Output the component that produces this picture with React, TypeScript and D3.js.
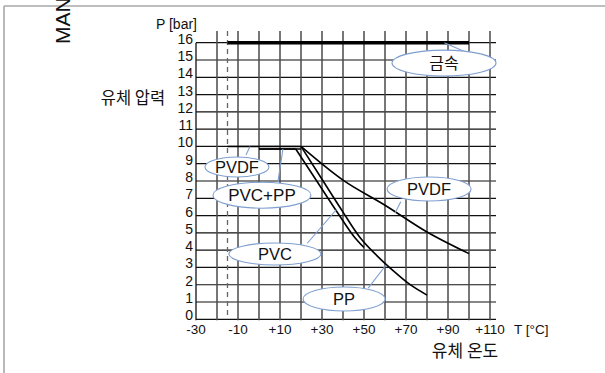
import React from "react";
import * as d3 from "d3";

const tempTicks = [-30, -20, -10, 0, 10, 20, 30, 40, 50, 60, 70, 80, 90, 100, 110];
const tempLabels = ["-30", "-10", "+10", "+30", "+50", "+70", "+90", "+110"];
const tempLabelValues = [-30, -10, 10, 30, 50, 70, 90, 110];
const pressureTicks = [0, 1, 2, 3, 4, 5, 6, 7, 8, 9, 10, 11, 12, 13, 14, 15, 16];

const metalFlat: [number, number][] = [[-15, 16], [100, 16]];
const pvdfFlat: [number, number][] = [[-15, 10], [20, 10]];
const pvdfCurve: [number, number][] = [[20, 10], [40, 8.05], [60, 6.6], [80, 5.05], [100, 3.8]];
const pvcFlat: [number, number][] = [[0, 9.85], [17.5, 9.85]];
const pvcCurve: [number, number][] = [[17.5, 9.85], [27.5, 8.0], [37.5, 6.15], [45.5, 4.75], [50, 4.15]];
const ppFlat: [number, number][] = [[0, 9.85], [20, 9.85]];
const ppCurve: [number, number][] = [[20, 10], [30, 8.1], [40, 6.2], [48, 4.75], [56, 3.7], [64, 2.8], [72, 2.0], [80, 1.4]];

const minTemp = -15;

// callouts: label, centre (T,P), pointer from (T,P) to (T,P)
const calloutLabels = ["금속", "PVDF", "PVC+PP", "PVC", "PVDF", "PP"];
const calloutCentres: [number, number][] = [[88.1, 14.82], [-10.5, 8.81], [1.4, 7.18], [7.6, 3.78], [81, 7.54], [40.5, 1.17]];
const calloutFrom: [number, number][] = [[98.6, 15.45], [-6.2, 9.5], [9.0, 7.95], [23, 4.4], [67.5, 6.8], [52, 1.8]];
const calloutTo: [number, number][] = [[88.3, 16], [-4.3, 10], [11.4, 9.85], [37.1, 6.38], [64.8, 6.15], [60.5, 3.14]];
const calloutRx = [52, 32, 49, 46, 42, 41];
const calloutRy = [13, 10, 13, 11, 12, 12];
const calloutFont = [16, 16.5, 17, 16.5, 16.5, 16.5];

export default function App() {
  const W = 605, H = 373;
  const x = d3.scaleLinear().domain([-30, 110]).range([196, 490]);
  const y = d3.scaleLinear().domain([0, 16]).range([319.3, 42.7]);
  const flat = d3.line<[number, number]>().x(d => x(d[0])).y(d => y(d[1]));
  const curve = d3.line<[number, number]>().x(d => x(d[0])).y(d => y(d[1])).curve(d3.curveMonotoneX);
  const latin = "'Liberation Sans', Arial, Helvetica, sans-serif";
  const korean = "'Noto Sans CJK KR', 'Noto Sans', sans-serif";
  const blue = "#7f9fcf";
  const topP = 16.67;

  return (
    <svg width={W} height={H} style={{ position: "absolute", left: 0, top: 0, background: "#fff" }}>
      {/* frame */}
      <line x1={4} y1={6} x2={W} y2={6} stroke="#a8a8a8" strokeWidth={1.6} />
      <line x1={4} y1={6} x2={4} y2={H} stroke="#a8a8a8" strokeWidth={1.6} />
      <text transform={`translate(70,44) rotate(-90)`} fontFamily={latin} fontSize={21} fill="#111">MAN</text>

      {/* grid horizontal */}
      {pressureTicks.map(p => (
        <line key={"h" + p} x1={x(-30)} x2={x(110) + 6} y1={y(p)} y2={y(p)} stroke="#111" strokeWidth={1.2} />
      ))}
      {/* grid vertical */}
      {tempTicks.map(t => (
        <line key={"v" + t} x1={x(t)} x2={x(t)} y1={y(t === -30 ? 16 : topP)} y2={y(0) + 1} stroke={t === -30 ? "#111" : "#4a4a4a"} strokeWidth={t === -30 ? 1.3 : 1.5} />
      ))}
      {/* dashed min temp */}
      <line x1={x(minTemp)} x2={x(minTemp)} y1={y(topP)} y2={y(0) - 2} stroke="#666" strokeWidth={1.3} strokeDasharray="5,4" />

      {/* y ticks */}
      {pressureTicks.map(p => (
        <text key={"yl" + p} x={193} y={y(p) + 1} textAnchor="end" fontFamily={latin} fontSize={14} fill="#111">{p}</text>
      ))}
      <text x={197} y={29} textAnchor="end" fontFamily={latin} fontSize={14} fill="#111">P [bar]</text>
      {/* x ticks */}
      {tempLabelValues.map((t, i) => (
        <text key={"xl" + t} x={x(t)} y={333.5} textAnchor="middle" fontFamily={latin} fontSize={13.5} fill="#111">{tempLabels[i]}</text>
      ))}
      <text x={514} y={333.5} fontFamily={latin} fontSize={13.5} fill="#111">T [°C]</text>
      <text x={465} y={356.5} textAnchor="middle" fontFamily={korean} fontSize={17} fill="#111">유체 온도</text>
      <text x={133} y={104} textAnchor="middle" fontFamily={korean} fontSize={16.5} fill="#111">유체 압력</text>

      {/* series */}
      <path d={flat(metalFlat) || ""} fill="none" stroke="#000" strokeWidth={3.6} />
      <path d={flat(pvdfFlat) || ""} fill="none" stroke="#000" strokeWidth={1.6} />
      <path d={curve(pvdfCurve) || ""} fill="none" stroke="#000" strokeWidth={1.6} />
      <path d={flat(pvcFlat) || ""} fill="none" stroke="#000" strokeWidth={1.6} />
      <path d={curve(pvcCurve) || ""} fill="none" stroke="#000" strokeWidth={1.6} />
      <path d={flat(ppFlat) || ""} fill="none" stroke="#000" strokeWidth={1.6} />
      <path d={curve(ppCurve) || ""} fill="none" stroke="#000" strokeWidth={1.6} />

      {/* callouts */}
      {calloutLabels.map((lab, i) => (
        <g key={"c" + i}>
          <line x1={x(calloutFrom[i][0])} y1={y(calloutFrom[i][1])} x2={x(calloutTo[i][0])} y2={y(calloutTo[i][1])} stroke={blue} strokeWidth={1.1} />
          <ellipse cx={x(calloutCentres[i][0])} cy={y(calloutCentres[i][1])} rx={calloutRx[i]} ry={calloutRy[i]} fill="#fff" stroke={blue} strokeWidth={1.1} />
          <text x={x(calloutCentres[i][0])} y={y(calloutCentres[i][1])} dy="0.36em" textAnchor="middle"
            fontFamily={lab === "금속" ? korean : latin} fontSize={calloutFont[i]} fill="#111">{lab}</text>
        </g>
      ))}
    </svg>
  );
}
